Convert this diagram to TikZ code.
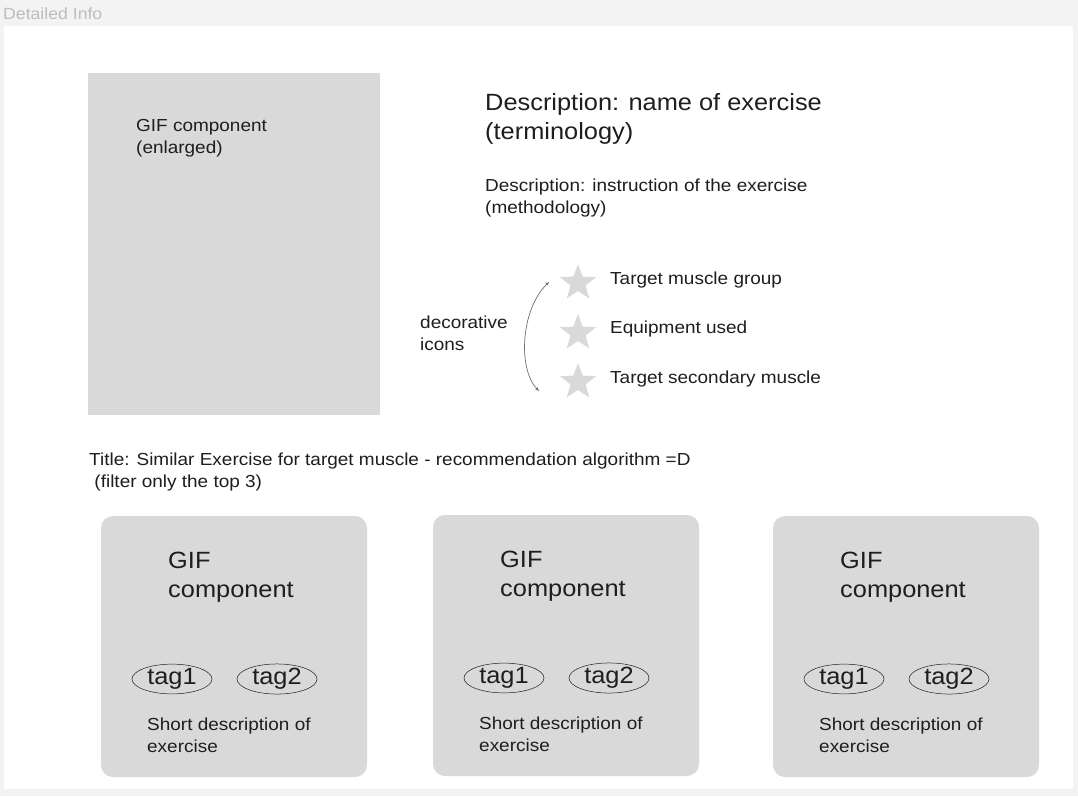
\documentclass[tikz,border=0pt]{standalone}
\usepackage{fontspec}
\setmainfont{Liberation Sans}
\newfontfamily\widef[FakeStretch=1.09]{Liberation Sans}
\newfontfamily\widebig[FakeStretch=1.08]{Liberation Sans}
\usetikzlibrary{shapes.geometric,arrows.meta}
\definecolor{bgout}{HTML}{F3F3F3}
\definecolor{boxgrey}{HTML}{D9D9D9}
\definecolor{ink}{HTML}{1E1E1E}
\definecolor{hdr}{HTML}{BDBDBD}
\definecolor{arrowgrey}{HTML}{707070}
\tikzset{
  txt/.style={anchor=west, inner sep=0pt, text=ink, font=\widef\fontsize{17.4}{22}\selectfont, align=left},
  bigtxt/.style={anchor=west, inner sep=0pt, text=ink, font=\widebig\fontsize{23.5}{29}\selectfont, align=left},
  card/.style={fill=boxgrey, rounded corners=12pt},
  tagbox/.style={ellipse, draw=ink, line width=0.5pt, minimum width=80pt, minimum height=28pt, inner sep=0pt, font=\widebig\fontsize{23.5}{26}\selectfont, text=ink},
  staricon/.style={star, star points=5, star point ratio=2.4, fill=boxgrey, minimum size=38pt, inner sep=0pt},
}
\begin{document}
\begin{tikzpicture}[x=1pt,y=-1pt]
\useasboundingbox (0,0) rectangle (1078,796);
\fill[bgout] (0,0) rectangle (1078,796);
\fill[white] (4,26) rectangle (1073,789);
\node[anchor=west, inner sep=0pt, text=hdr, font=\widef\fontsize{16.2}{18}\selectfont] (hdr) at (3,14) {Detailed Info};
% big gif
\fill[boxgrey] (88,73) rectangle (380,415);
\node[txt] (gifbig) at (136,138) {GIF component\\(enlarged)};
\node[bigtxt] (dname) at (485,119) {Description: name of exercise\\(terminology)};
\node[txt] (dinstr) at (485,198) {Description: instruction of the exercise\\(methodology)};
% stars
\node[staricon] (s1) at (578,283) {};
\node[staricon] (s2) at (578,333) {};
\node[staricon] (s3) at (578,382) {};
\node[txt] (l1) at (610,280) {Target muscle group};
\node[txt] (l2) at (610,329) {Equipment used};
\node[txt] (l3) at (610,379) {Target secondary muscle};
\node[txt] (deco) at (420,333) {decorative\\icons};
\coordinate (atop) at (549,282);
\coordinate (abot) at (539,391);
\draw[arrowgrey, line width=0.7pt, {Stealth[length=4pt,width=3pt]}-{Stealth[length=4pt,width=3pt]}] (atop) .. controls (520,310) and (518,370) .. (abot);
% title
\node[txt] (ttl) at (89,472) {Title: Similar Exercise for target muscle - recommendation algorithm =D\\\ (filter only the top 3)};
% cards
\foreach \dx/\dy/\n in {0/0/a, 332/-1/b, 672/0/c}{
  \begin{scope}[shift={(\dx,\dy)}]
    \fill[card] (101,516) rectangle (367,777);
    \node[bigtxt] (gif\n) at (168,577) {GIF\\component};
    \node[tagbox] (t1\n) at (172,679) {tag1};
    \node[tagbox] (t2\n) at (277,679) {tag2};
    \node[txt] (sd\n) at (147,735) {Short description of\\exercise};
  \end{scope}
}
\end{tikzpicture}
\end{document}
